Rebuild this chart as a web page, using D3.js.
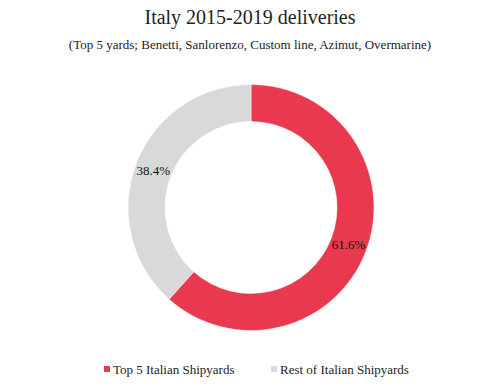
<!DOCTYPE html>
<html>
<head>
<meta charset="utf-8">
<script src="https://cdn.jsdelivr.net/npm/d3@7"></script>
<style>
  body { margin: 0; background: #fff; }
  text { font-family: "Liberation Serif", "DejaVu Serif", serif; fill: #222; }
</style>
</head>
<body>
<div id="chart"></div>
<script>
// data
var labels = ["Top 5 Italian Shipyards", "Rest of Italian Shipyards"];
var shares = [61.6, 38.4];
var colors = ["#e8394f", "#d9d9d9"];

var width = 500, height = 388;
var cx = 251, cy = 207.5,
    outerR = 123, innerR = 86;

var svg = d3.select("#chart")
  .append("svg")
    .attr("width", width)
    .attr("height", height);

// title
svg.append("text")
  .attr("x", width / 2)
  .attr("y", 24)
  .style("text-anchor", "middle")
  .style("font-size", "20px")
  .text("Italy 2015-2019 deliveries");

svg.append("text")
  .attr("x", width / 2)
  .attr("y", 49)
  .style("text-anchor", "middle")
  .style("font-size", "13px")
  .text("(Top 5 yards; Benetti, Sanlorenzo, Custom line, Azimut, Overmarine)");

var data = labels.map(function(l, i) { return {label: l, value: shares[i]}; });

var color = d3.scaleOrdinal()
  .domain(labels)
  .range(colors);

var pie = d3.pie()
  .sort(null)
  .value(function(d) { return d.value; });

var arc = d3.arc()
  .innerRadius(innerR)
  .outerRadius(outerR);

var g = svg.append("g")
  .attr("transform", "translate(" + cx + "," + cy + ")");

g.selectAll("path")
  .data(pie(data))
  .enter()
  .append("path")
    .attr("d", arc)
    .attr("fill", function(d) { return color(d.data.label); })
    .attr("stroke", "#fff")
    .attr("stroke-width", 0.5);

// percent labels at the arc centroids
g.selectAll("text.pct")
  .data(pie(data))
  .enter()
  .append("text")
    .attr("class", "pct")
    .attr("transform", function(d) { return "translate(" + arc.centroid(d) + ")"; })
    .attr("dy", ".35em")
    .style("text-anchor", "middle")
    .style("font-size", "13px")
    .style("fill", "#111")
    .text(function(d) { return d.data.value.toFixed(1) + "%"; });

// legend
var legendX = [104, 271];
var legend = svg.append("g");
labels.forEach(function(l, i) {
  legend.append("rect")
    .attr("x", legendX[i])
    .attr("y", 366)
    .attr("width", 6)
    .attr("height", 6)
    .style("fill", color(l));

  legend.append("text")
    .attr("x", legendX[i] + 9)
    .attr("y", 369)
    .attr("dy", ".35em")
    .style("font-size", "13px")
    .text(l);
});
</script>
</body>
</html>
